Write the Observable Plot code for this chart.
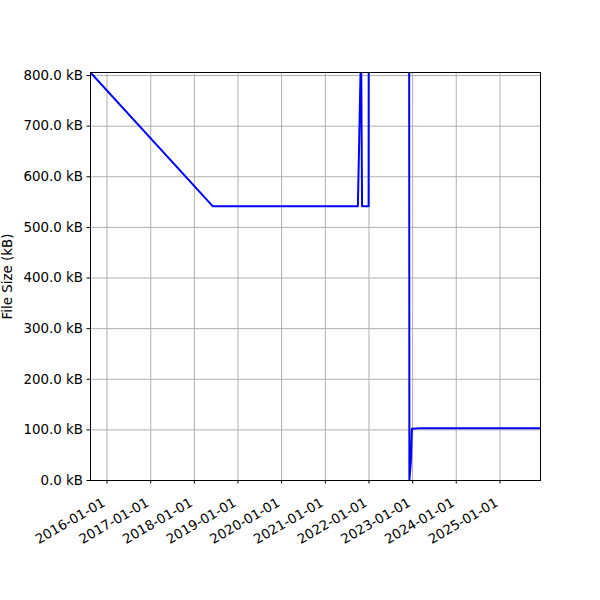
<!DOCTYPE html>
<html>
<head>
<meta charset="utf-8">
<script src="https://cdn.jsdelivr.net/npm/d3@7"></script>
<script src="https://cdn.jsdelivr.net/npm/@observablehq/plot@0.6"></script>
<style>
  html, body { margin: 0; padding: 0; background: #fff; }
  #chart { width: 600px; height: 600px; }
</style>
</head>
<body>
<div id="chart"></div>
<script>
// Data
const dates = ["2015-08-16", "2018-06-03", "2021-09-30", "2021-10-27", "2021-11-04", "2021-12-29", "2021-12-31", "2022-12-02", "2022-12-05", "2022-12-17", "2022-12-26", "2023-03-01", "2025-12-06"];
const sizes = [806, 542, 542, 860, 542, 542, 1400, 1400, 0, 36, 102, 103, 103];
const yTicks = [0, 100, 200, 300, 400, 500, 600, 700, 800];
const xTickYears = ["2016-01-01", "2017-01-01", "2018-01-01", "2019-01-01", "2020-01-01", "2021-01-01", "2022-01-01", "2023-01-01", "2024-01-01", "2025-01-01"];
const yLabel = "File Size (kB)";

const data = dates.map((d, i) => ({date: new Date(d + "T00:00:00Z"), size: sizes[i]}));
const xTicks = xTickYears.map(d => new Date(d + "T00:00:00Z"));

const chart = Plot.plot({
  width: 600,
  height: 600,
  marginLeft: 90,
  marginRight: 60,
  marginTop: 72,
  marginBottom: 120,
  style: {fontFamily: "'DejaVu Sans', sans-serif", fontSize: "13.4px", background: "#fff", color: "#000"},
  x: {type: "utc", domain: [new Date("2015-08-16T00:00:00Z"), new Date("2025-12-06T00:00:00Z")]},
  y: {domain: [0, 806]},
  marks: [
    Plot.gridX(xTicks, {stroke: "#b0b0b0", strokeOpacity: 1, strokeWidth: 1}),
    Plot.gridY(yTicks, {stroke: "#b0b0b0", strokeOpacity: 1, strokeWidth: 1}),
    Plot.line(data, {x: "date", y: "size", stroke: "#0000ff", strokeWidth: 2, clip: true}),
    Plot.frame({stroke: "#000", strokeWidth: 1}),
    Plot.axisY({ticks: yTicks, tickFormat: d => d.toFixed(1) + " kB", tickSize: 3.5, tickPadding: 4, label: yLabel, labelAnchor: "center", labelArrow: "none", labelOffset: 88, fill: "#000"}),
    Plot.axisX({ticks: xTicks, tickFormat: () => "", tickSize: 3.5, label: null}),
    Plot.axisX({ticks: xTicks, tickFormat: d3.utcFormat("%Y-%m-%d"), tickSize: 0, tickRotate: -30, tickPadding: 4, dy: 17, dx: -3, label: null, fill: "#000"})
  ]
});
document.getElementById("chart").appendChild(chart);
</script>
</body>
</html>
